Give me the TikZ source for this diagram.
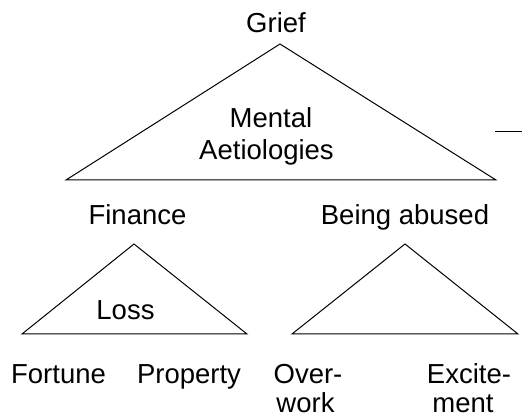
\documentclass[tikz,border=0pt]{standalone}
\usepackage{fontspec}
\setmainfont{Liberation Sans}
\begin{document}
\begin{tikzpicture}[x=1pt,y=-1pt,
  lbl/.style={font=\fontsize{27.5}{32}\selectfont, inner sep=0pt, anchor=base},
  tri/.style={draw=black, line width=1pt, line join=miter}]
\useasboundingbox (0,0) rectangle (522,419);
% big triangle
\coordinate (gA) at (280,44);
\coordinate (gL) at (66,180);
\coordinate (gR) at (496,180);
\draw[tri] (gA) -- (gL) -- (gR) -- cycle;
% left triangle
\coordinate (fA) at (134,244);
\coordinate (fL) at (22,334);
\coordinate (fR) at (247,334);
\draw[tri] (fA) -- (fL) -- (fR) -- cycle;
% right triangle
\coordinate (bA) at (405,244);
\coordinate (bL) at (292,334);
\coordinate (bR) at (518,334);
\draw[tri] (bA) -- (bL) -- (bR) -- cycle;
% small dash
\coordinate (d1) at (495,132);
\coordinate (d2) at (522,132);
\draw[line width=1pt] (d1) -- (d2);
% labels
\node[lbl] (grief) at (276,33) {Grief};
\node[lbl] (mental) at (271,128) {Mental};
\node[lbl] (aetiol) at (266.5,160) {Aetiologies};
\node[lbl] (finance) at (137.5,225) {Finance};
\node[lbl] (abused) at (405,225) {Being abused};
\node[lbl] (loss) at (125.5,320) {Loss};
\node[lbl] (fortune) at (58.5,384) {Fortune};
\node[lbl] (property) at (189,384) {Property};
\node[lbl] (over) at (308,384) {Over-};
\node[lbl] (work) at (305.5,413) {work};
\node[lbl] (excite) at (469,384) {Excite-};
\node[lbl] (ment) at (463,413) {ment};
\end{tikzpicture}
\end{document}
